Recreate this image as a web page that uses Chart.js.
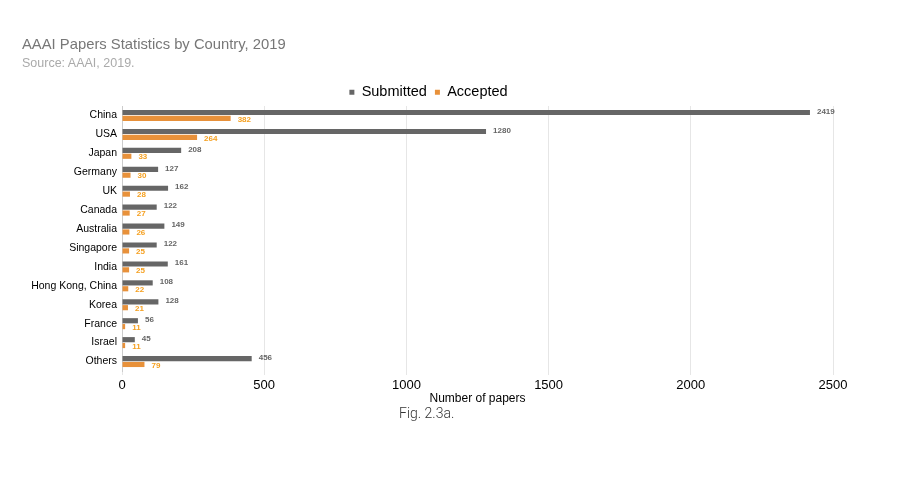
<!DOCTYPE html>
<html>
<head>
<meta charset="utf-8">
<script src="https://cdn.jsdelivr.net/npm/chart.js@4"></script>
<style>
  body { margin: 0; background: #fff; }
  #wrap { position: relative; width: 897px; height: 479px; font-family: "Liberation Sans", Arial, sans-serif; }
  #c { position: absolute; left: 0; top: 0; }
  .title { position: absolute; left: 22px; top: 36px; font-size: 14.8px; color: #777; }
  .sub { position: absolute; left: 22px; top: 56px; font-size: 12.5px; color: #aaa; }
  .fig { position: absolute; left: 399px; top: 405px; font-family: Roboto, sans-serif; font-weight: 300; font-size: 14px; color: #333; }
</style>
</head>
<body>
<div id="wrap">
  <canvas id="c" width="897" height="479"></canvas>
  <div class="title">AAAI Papers Statistics by Country, 2019</div>
  <div class="sub">Source: AAAI, 2019.</div>
  <div class="fig">Fig. 2.3a.</div>
</div>
<script>
var countries = ['China', 'USA', 'Japan', 'Germany', 'UK', 'Canada', 'Australia', 'Singapore', 'India', 'Hong Kong, China', 'Korea', 'France', 'Israel', 'Others'];
var submitted = [2419, 1280, 208, 127, 162, 122, 149, 122, 161, 108, 128, 56, 45, 456];
var accepted = [382, 264, 33, 30, 28, 27, 26, 25, 25, 22, 21, 11, 11, 79];
var xTicks = [0, 500, 1000, 1500, 2000, 2500];
var labelColors = ['#666666', '#f5a020'];

// value labels next to each bar
var barLabels = {
    id: 'barLabels',
    afterDatasetsDraw: function (chart) {
        var ctx = chart.ctx;
        ctx.save();
        ctx.font = 'bold 8px "Liberation Sans", Arial, sans-serif';
        ctx.textBaseline = 'middle';
        ctx.textAlign = 'left';
        chart.data.datasets.forEach(function (ds, i) {
            var meta = chart.getDatasetMeta(i);
            ctx.fillStyle = labelColors[i];
            meta.data.forEach(function (bar, j) {
                ctx.fillText(ds.data[j], bar.x + 7, bar.y + (i === 0 ? -1 : 1));
            });
        });
        ctx.restore();
    }
};

new Chart(document.getElementById('c').getContext('2d'), {
    type: 'bar',
    data: {
        labels: countries,
        datasets: [{
            label: 'Submitted',
            backgroundColor: '#666666',
            data: submitted,
            categoryPercentage: 0.62,
            barPercentage: 0.88
        }, {
            label: 'Accepted',
            backgroundColor: '#e8913a',
            data: accepted,
            categoryPercentage: 0.62,
            barPercentage: 0.88
        }]
    },
    options: {
        indexAxis: 'y',
        responsive: false,
        animation: false,
        layout: { padding: { top: 77, right: 64, bottom: 73, left: 24 } },
        plugins: {
            legend: {
                maxHeight: 29,
                labels: {
                    boxWidth: 5,
                    boxHeight: 5,
                    padding: 8,
                    color: '#000',
                    font: { size: 14.5, family: '"Liberation Sans", Arial, sans-serif' }
                }
            },
            tooltip: { enabled: false }
        },
        scales: {
            x: {
                min: xTicks[0],
                max: xTicks[xTicks.length - 1],
                afterBuildTicks: function (scale) {
                    scale.ticks = xTicks.map(function (v) { return { value: v }; });
                },
                ticks: {
                    color: '#000',
                    font: { size: 13, family: '"Liberation Sans", Arial, sans-serif' },
                    callback: function (v) { return String(v); }
                },
                grid: { color: '#e6e6e6', drawTicks: true, tickLength: 4 },
                border: { display: false },
                title: { display: true, text: 'Number of papers', color: '#000', padding: { top: -5, bottom: 0 }, font: { size: 12, family: '"Liberation Sans", Arial, sans-serif' } }
            },
            y: {
                afterFit: function (scale) { scale.width = 98; },
                ticks: { color: '#000', font: { size: 10.5, family: '"Liberation Sans", Arial, sans-serif' }, padding: 5 },
                grid: { display: false, drawTicks: false, tickLength: 0 },
                border: { color: '#cccccc' }
            }
        }
    },
    plugins: [barLabels]
});
</script>
</body>
</html>
